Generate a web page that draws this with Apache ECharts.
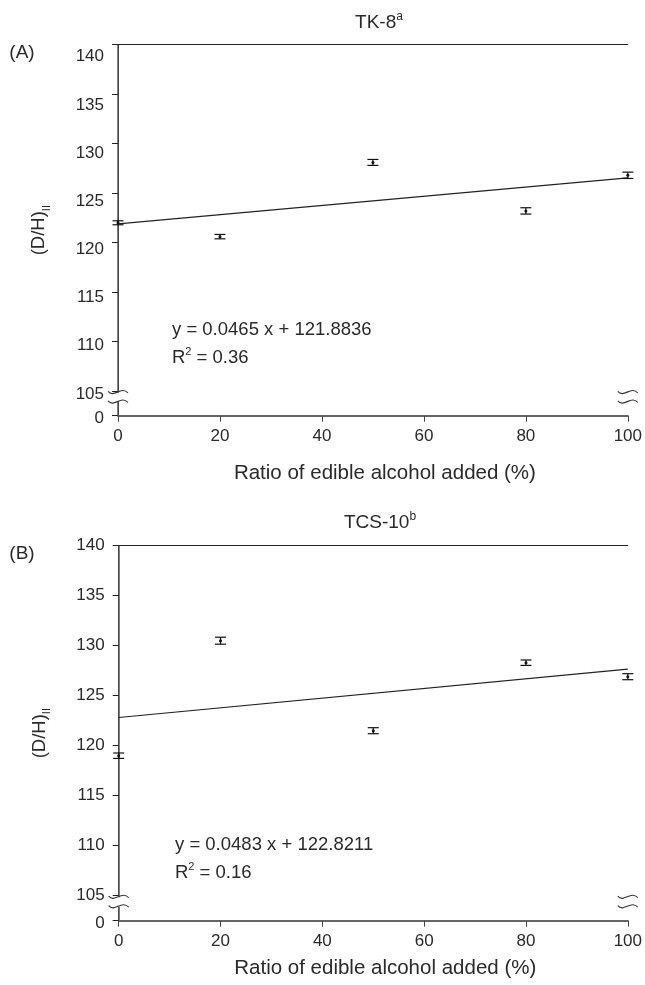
<!DOCTYPE html>
<html><head><meta charset="utf-8">
<script src="https://cdn.jsdelivr.net/npm/echarts@6/dist/echarts.min.js"></script>
<style>html,body{margin:0;padding:0;background:#fff}#c{width:645px;height:985px}</style>
</head><body><div id="c"></div>
<script>
// ---- data ----
const xTicks = [0, 20, 40, 60, 80, 100];
const yTickValues = [105, 110, 115, 120, 125, 130, 135, 140];
const breakBase = 102.5;            // axis position labelled "0" below the break
const ratioA = [0, 20, 50, 80, 100];
const dhA    = [122.0, 120.6, 128.1, 123.2, 126.8];
const errA   = [0.20, 0.22, 0.30, 0.32, 0.32];
const trendA = [[0, 121.88], [100, 126.53]];
const ratioB = [0, 20, 50, 80, 100];
const dhB    = [119.0, 130.5, 121.5, 128.3, 126.9];
const errB   = [0.27, 0.35, 0.30, 0.27, 0.30];
const trendB = [[0, 122.82], [100, 127.65]];
const titleA = 'TK-8', supA = 'a', eqA = 'y = 0.0465 x + 121.8836', r2A = '0.36';
const titleB = 'TCS-10', supB = 'b', eqB = 'y = 0.0483 x + 122.8211', r2B = '0.16';
const xName = 'Ratio of edible alcohol added (%)';

// ---- styling ----
const FONT = 'Liberation Sans';
const TXT = '#2a2a2a';
const FS = 17;

const chart = echarts.init(document.getElementById('c'), null, {renderer: 'canvas'});

function zip(xs, ys, es) { return xs.map((x, i) => [x, ys[i], es[i]]); }

function errRender(params, api) {
  const x = api.value(0), y = api.value(1), e = api.value(2);
  const pt = api.coord([x, y]), hi = api.coord([x, y + e]), lo = api.coord([x, y - e]);
  const w = 5.5, st = {stroke: '#111', lineWidth: 1.2};
  return {type: 'group', children: [
    {type: 'line', shape: {x1: pt[0], y1: hi[1], x2: pt[0], y2: lo[1]}, style: st},
    {type: 'line', shape: {x1: pt[0] - w, y1: hi[1], x2: pt[0] + w, y2: hi[1]}, style: st},
    {type: 'line', shape: {x1: pt[0] - w, y1: lo[1], x2: pt[0] + w, y2: lo[1]}, style: st},
    {type: 'circle', shape: {cx: pt[0], cy: pt[1], r: 1.5}, style: {fill: '#111'}}
  ]};
}

function breakRender(params, api) {
  const p = api.coord([api.value(0), api.value(1)]);
  const x = p[0], y1 = p[1] + 1.5, y2 = p[1] + 11;
  const st = {stroke: '#333', lineWidth: 1.1, fill: null};
  function tilde(y) {
    return {type: 'bezierCurve', shape: {x1: x - 10, y1: y - 1, cpx1: x - 4, cpy1: y + 6, cpx2: x + 3, cpy2: y - 7, x2: x + 10, y2: y + 0.5}, style: st};
  }
  return {type: 'group', children: [
    {type: 'rect', shape: {x: x - 2.5, y: y1, width: 5, height: y2 - y1}, style: {fill: '#fff'}},
    tilde(y1), tilde(y2)
  ]};
}

function yLabelFmt(v) { return v < 104 ? '{z|0}' : String(Math.round(v)); }
const zeroRich = {z: {fontFamily: FONT, fontSize: FS, color: TXT, padding: [6, 0, 0, 0]}};

function panelAxes(gi, labelOffsetAxis) {
  const lblStyle = {color: TXT, fontFamily: FONT, fontSize: FS};
  const main = {
    type: 'value', gridIndex: gi, position: 'left', min: breakBase, max: 140,
    axisLine: {show: true, lineStyle: {color: '#222', width: 1}},
    axisTick: {show: true, inside: false, length: 6, lineStyle: {color: '#222'},
      customValues: [breakBase].concat(yTickValues)},
    axisLabel: {show: true, margin: 14, ...lblStyle, formatter: yLabelFmt, rich: zeroRich,
      customValues: labelOffsetAxis ? [breakBase] : [breakBase].concat(yTickValues)},
    splitLine: {show: false},
    name: '{m|(D/H)}{s|II}', nameLocation: 'middle', nameGap: 66, nameRotate: 90,
    nameTextStyle: {rich: {
      m: {fontFamily: FONT, fontSize: 18.5, color: TXT, lineHeight: 26},
      s: {fontFamily: FONT, fontSize: 11, color: TXT, lineHeight: 12, verticalAlign: 'bottom'}
    }}
  };
  const right = {
    type: 'value', gridIndex: gi, position: 'right', min: breakBase, max: 140,
    axisLine: {show: true, lineStyle: {color: '#555', width: 1.5}},
    axisTick: {show: false}, axisLabel: {show: false}, splitLine: {show: false}
  };
  const list = [main, right];
  if (labelOffsetAxis) {
    list.push({
      type: 'value', gridIndex: gi, position: 'left', min: labelOffsetAxis[0], max: labelOffsetAxis[1],
      axisLine: {show: false}, axisTick: {show: false}, splitLine: {show: false},
      axisLabel: {show: true, margin: 14, ...lblStyle, formatter: yLabelFmt,
        customValues: yTickValues}
    });
  }
  return list;
}

function panelXAxes(gi, nameGap) {
  return [{
    type: 'value', gridIndex: gi, position: 'bottom', min: 0, max: 100, interval: 20,
    axisLine: {show: true, onZero: false, lineStyle: {color: '#666', width: 1.8}},
    axisTick: {show: true, length: 6, lineStyle: {color: '#444'}},
    axisLabel: {margin: 12, color: TXT, fontFamily: FONT, fontSize: FS},
    splitLine: {show: false},
    name: xName, nameLocation: 'middle', nameGap: nameGap,
    nameTextStyle: {color: TXT, fontFamily: FONT, fontSize: 20.5, padding: [0, 0, 0, 24]}
  }, {
    type: 'value', gridIndex: gi, position: 'top', min: 0, max: 100,
    axisLine: {show: true, onZero: false, lineStyle: {color: '#222', width: 1}},
    axisTick: {show: false}, axisLabel: {show: false}, splitLine: {show: false}
  }];
}

const yA = panelAxes(0, [102.748, 141.245]);
const yB = panelAxes(1, null);
const yAxes = yA.concat(yB);
const idxA = 0, idxB = yA.length;
const xAxes = panelXAxes(0, 47).concat(panelXAxes(1, 37));

function seriesFor(xi, yi, ratio, dh, err, trend) {
  return [
    {type: 'line', xAxisIndex: xi, yAxisIndex: yi, data: trend, symbol: 'none',
      lineStyle: {color: '#222', width: 1.2}, silent: true, z: 3},
    {type: 'custom', xAxisIndex: xi, yAxisIndex: yi, data: zip(ratio, dh, err),
      renderItem: errRender, clip: false, z: 4},
    {type: 'custom', xAxisIndex: xi, yAxisIndex: yi, data: [[0, 105], [100, 105]],
      renderItem: breakRender, clip: false, z: 5, silent: true}
  ];
}

function textEl(x, y, content, align, fs) {
  const f = fs || FS;
  return {type: 'text', x: x, y: y, style: {text: content, rich: {
      m: {fontFamily: FONT, fontSize: f, fill: TXT, lineHeight: f + 5},
      s: {fontFamily: FONT, fontSize: Math.round(f * 0.62), fill: TXT, lineHeight: 12, verticalAlign: 'top'}
    }, fill: TXT, fontFamily: FONT, fontSize: f, align: align || 'left', verticalAlign: 'middle'}};
}

const option = {
  backgroundColor: '#fff',
  animation: false,
  grid: [
    {left: 118, top: 44.7, width: 515.5, height: 371},
    {left: 118.7, top: 545.7, width: 517, height: 375}
  ],
  xAxis: xAxes,
  yAxis: yAxes,
  series: seriesFor(0, idxA, ratioA, dhA, errA, trendA)
    .concat(seriesFor(2, idxB, ratioB, dhB, errB, trendB)),
  graphic: [
    textEl(22, 53, '{m|(A)}', 'center', 19),
    textEl(379, 23, '{m|' + titleA + '}{s|' + supA + '}', 'center', 19),
    textEl(172, 330, '{m|' + eqA + '}', 'left', 18.5),
    textEl(172, 358, '{m|R}{s|2}{m| = ' + r2A + '}', 'left', 18.5),
    textEl(22, 554, '{m|(B)}', 'center', 19),
    textEl(380, 523, '{m|' + titleB + '}{s|' + supB + '}', 'center', 19),
    textEl(175, 845, '{m|' + eqB + '}', 'left', 18.5),
    textEl(175, 873, '{m|R}{s|2}{m| = ' + r2B + '}', 'left', 18.5)
  ]
};
chart.setOption(option);
</script>
</body></html>
